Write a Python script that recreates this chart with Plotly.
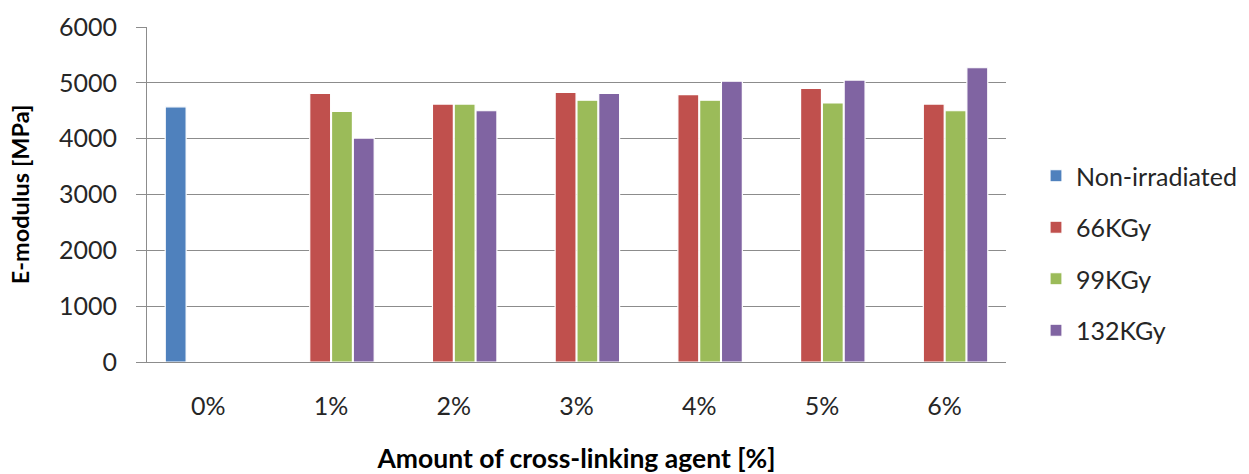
import plotly.graph_objects as go

categories = ["0%", "1%", "2%", "3%", "4%", "5%", "6%"]
series_names = ["Non-irradiated", "66KGy", "99KGy", "132KGy"]
non_irradiated = [4570, None, None, None, None, None, None]
kgy66 = [None, 4810, 4620, 4830, 4790, 4900, 4620]
kgy99 = [None, 4490, 4620, 4690, 4690, 4640, 4500]
kgy132 = [None, 4010, 4500, 4810, 5030, 5050, 5270]
y_ticks = [0, 1000, 2000, 3000, 4000, 5000, 6000]

colors = ["#4F81BD", "#C0504D", "#9BBB59", "#8064A2"]
FONT = "Lato"

fig = go.Figure()
for i, (name, vals) in enumerate(zip(series_names, [non_irradiated, kgy66, kgy99, kgy132])):
    fig.add_trace(go.Bar(
        x=categories, y=vals, name=name, legendgroup=name,
        marker=dict(color=colors[i], line=dict(color="white", width=1.2)),
    ))

fig.update_layout(
    width=1249, height=474,
    barmode="group", bargap=0.29, bargroupgap=0.04,
    plot_bgcolor="white", paper_bgcolor="white",
    margin=dict(l=147, r=243, t=27, b=112),
    font=dict(family=FONT, size=25, color="#262626"),
    legend=dict(
        x=1036 / 1249, xref="container", y=1 - 153 / 474, yref="container",
        xanchor="left", yanchor="top",
        font=dict(family=FONT, size=25, color="#262626"),
        tracegroupgap=16, itemwidth=30,
    ),
    showlegend=True,
)

fig.update_yaxes(
    range=[0, 6000], tickvals=y_ticks, ticktext=[str(v) for v in y_ticks],
    showgrid=True, gridcolor="#8C8C8C", gridwidth=1,
    showline=True, linecolor="#8C8C8C", linewidth=1,
    ticks="outside", ticklen=10, tickcolor="#8C8C8C",
    ticklabelstandoff=14, zeroline=False,
    tickfont=dict(family=FONT, size=25, color="#262626"),
    title=dict(text="<b>E-modulus [MPa]</b>", font=dict(family=FONT, size=23.5, color="#000"), standoff=22),
    automargin=False,
)
fig.update_xaxes(
    showline=True, linecolor="#8C8C8C", linewidth=1, mirror=False,
    ticks="", ticklabelstandoff=22,
    tickfont=dict(family=FONT, size=25, color="#262626"),
    title=dict(text="<b>Amount of cross-linking agent [%]</b>", font=dict(family=FONT, size=26.5, color="#000"), standoff=33),
    automargin=False,
)

fig.write_html("out.html")
